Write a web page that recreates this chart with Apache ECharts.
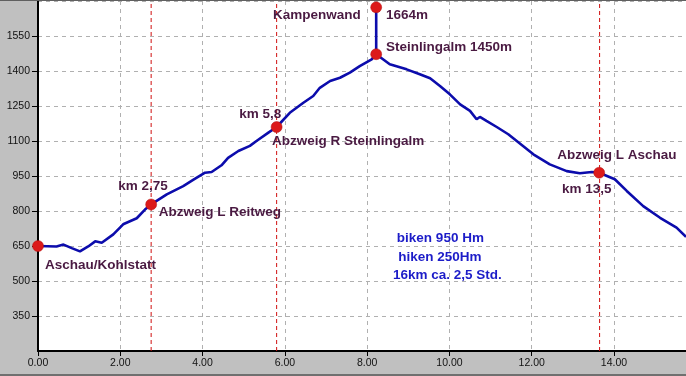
<!DOCTYPE html>
<html>
<head>
<meta charset="utf-8">
<script src="https://cdn.jsdelivr.net/npm/echarts@6/dist/echarts.min.js"></script>
<style>
html,body{margin:0;padding:0;background:#c0c0c0;}
#c{width:686px;height:376px;}
</style>
</head>
<body>
<div id="c"></div>
<script>
// Elevation profile (km, m)
const distanceKm = [0, 0.45, 0.62, 0.82, 1.02, 1.22, 1.39, 1.55, 1.83, 2.07, 2.40, 2.60, 2.75,
  3.13, 3.53, 3.77, 4.06, 4.22, 4.46, 4.62, 4.87, 5.15, 5.31, 5.60, 5.80,
  6.12, 6.45, 6.69, 6.85, 7.10, 7.34, 7.58, 7.82, 8.11, 8.22, 8.22, 8.22,
  8.55, 8.96, 9.28, 9.53, 9.77, 10.01, 10.26, 10.50, 10.66, 10.74, 10.90, 11.15, 11.43,
  12.04, 12.44, 12.85, 13.17, 13.46, 13.64, 14.02, 14.31, 14.71, 15.12, 15.52, 15.75];
const elevation = [650, 648, 656, 641, 627, 648, 670, 664, 700, 743, 769, 806, 828,
  871, 907, 933, 964, 967, 996, 1028, 1057, 1079, 1100, 1136, 1160,
  1221, 1264, 1293, 1328, 1357, 1371, 1393, 1421, 1450, 1472, 1673, 1472,
  1429, 1407, 1386, 1369, 1336, 1300, 1257, 1229, 1193, 1203, 1186, 1160, 1129,
  1043, 1000, 971, 962, 967, 964, 936, 886, 821, 771, 729, 689];

// Waypoint markers
const markerKm = [0, 2.75, 5.8, 8.22, 8.22, 13.64];
const markerElev = [650, 828, 1160, 1472, 1673, 964];

// Red dashed reference lines (km)
const refLineKm = [2.75, 5.8, 13.65];

// Axis ticks
const yMin = 200, yMax = 1700, yStep = 150;
const xMin = 0, xMax = 15.75, xStep = 2;

// Annotation texts with their anchor (km, m)
const noteText = ['Aschau/Kohlstatt', 'km 2,75', 'Abzweig L Reitweg', 'km 5,8', 'Abzweig R Steinlingalm',
  'Kampenwand', '1664m', 'Steinlingalm 1450m', 'Abzweig L Aschau', 'km 13,5'];
const noteKm = [1.52, 2.55, 4.42, 5.40, 7.54, 6.78, 8.97, 9.99, 14.07, 13.34];
const noteElev = [568, 907, 793, 1216, 1097, 1639, 1639, 1500, 1040, 893];

const infoText = ['biken 950 Hm', 'hiken 250Hm', '16km ca. 2,5 Std.'];
const infoKm = [9.78, 9.77, 9.95];
const infoElev = [681, 600, 526];

const profile = distanceKm.map((d, i) => [d, elevation[i]]);
const markers = markerKm.map((d, i) => [d, markerElev[i]]);
const notes = noteText.map((t, i) => [noteKm[i], noteElev[i], t]);
const infos = infoText.map((t, i) => [infoKm[i], infoElev[i], t]);

const chart = echarts.init(document.getElementById('c'), null, {renderer: 'canvas'});
const FONT = '"Liberation Sans", Arial, sans-serif';
const labelStyle = (color) => ({
  show: true, position: 'inside', formatter: p => p.data[2],
  color: color, fontFamily: FONT, fontWeight: 'bold', fontSize: 13.5,
  align: 'center', verticalAlign: 'middle', opacity: 1
});

const refSeries = refLineKm.map(k => ({
  type: 'line', data: [[k, yMin], [k, yMax]], symbol: 'none', silent: true,
  lineStyle: {color: '#d01010', type: [4, 3], width: 1, opacity: 1}, z: 2
}));

chart.setOption({
  animation: false,
  backgroundColor: '#c0c0c0',
  grid: {left: 38, right: 0, top: 1, bottom: 25, show: true, backgroundColor: '#ffffff', borderWidth: 0},
  xAxis: {
    type: 'value', min: xMin, max: xMax, interval: xStep,
    axisLine: {show: true, onZero: false, lineStyle: {color: '#000', width: 2}},
    axisTick: {show: true, length: 5, lineStyle: {color: '#000'}},
    axisLabel: {show: true, margin: 7, fontFamily: FONT, fontSize: 10.5, color: '#111',
      showMaxLabel: false, formatter: v => v.toFixed(2)},
    splitLine: {show: true, lineStyle: {color: '#b0b0b0', type: [4, 4], width: 1}}
  },
  yAxis: {
    type: 'value', min: yMin, max: yMax, interval: yStep,
    axisLine: {show: true, onZero: false, lineStyle: {color: '#000', width: 2}},
    axisTick: {show: true, length: 6, lineStyle: {color: '#000'}},
    axisLabel: {show: true, margin: 8, fontFamily: FONT, fontSize: 10.5, color: '#111',
      showMinLabel: false, showMaxLabel: false, formatter: v => String(v)},
    splitLine: {show: true, lineStyle: {color: '#b0b0b0', type: [4, 4], width: 1}}
  },
  series: refSeries.concat([
    {
      type: 'line', data: profile, showSymbol: false, symbol: 'none',
      lineStyle: {color: '#0c0cac', width: 2.6}, z: 3
    },
    {
      type: 'scatter', data: markers, symbol: 'circle', symbolSize: 11, clip: false,
      itemStyle: {color: '#dc1a1a', borderColor: '#b01010', borderWidth: 0.5, opacity: 1}, z: 4
    },
    {
      type: 'scatter', data: notes, symbolSize: 1, itemStyle: {color: 'rgba(0,0,0,0)', opacity: 1},
      label: labelStyle('#4a1a42'), z: 5, silent: true
    },
    {
      type: 'scatter', data: infos, symbolSize: 1, itemStyle: {color: 'rgba(0,0,0,0)', opacity: 1},
      label: labelStyle('#1c1cc8'), z: 5, silent: true
    }
  ]),
  graphic: [
    {type: 'rect', shape: {x: 0, y: 0, width: 686, height: 1}, style: {fill: '#606060'}, z: 100},
    {type: 'rect', shape: {x: 0, y: 374, width: 686, height: 2}, style: {fill: '#707070'}, z: 100}
  ]
});
</script>
</body>
</html>
